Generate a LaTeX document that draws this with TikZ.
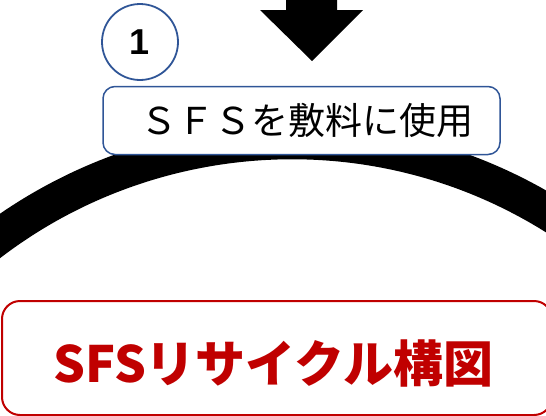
\documentclass[tikz,border=0pt]{standalone}
\usepackage{fontspec}
\setmainfont{Liberation Sans}
\newfontfamily\cjk{Noto Sans CJK JP}
\definecolor{boxblue}{HTML}{2F5597}
\definecolor{titlered}{HTML}{C00000}
\tikzset{
  labelbox/.style={draw=boxblue, line width=1.5pt, rounded corners=12pt, fill=white},
  numcircle/.style={draw=boxblue, line width=1.8pt, circle, fill=white},
  titlebox/.style={draw=titlered, line width=2pt, rounded corners=18pt, fill=white},
}
\begin{document}
\begin{tikzpicture}[x=1pt,y=-1pt]
\useasboundingbox (0,0) rectangle (546,415);
\clip (0,0) rectangle (546,415);
% big arc
\draw[line width=36pt] (291.7,638.3) ++(-144:497) arc[start angle=-144, end angle=-24, radius=497];
% down arrow
\fill (286,-5) -- (337,-5) -- (337,10) -- (363,10) -- (312,61) -- (260,10) -- (286,10) -- cycle;
% circle 1
\node[numcircle, minimum size=76pt, inner sep=0pt] (c1) at (140,42) {\fontsize{36}{36}\selectfont\bfseries 1};
% label box
\node[labelbox, minimum width=397pt, minimum height=68pt, inner sep=0pt] (b1) at (301.5,120.5) {};
\node (t1) at (307,120) {\cjk\fontsize{37}{37}\selectfont ＳＦＳを敷料に使用};
% title box
\node[titlebox, minimum width=550pt, minimum height=114pt, inner sep=0pt] (b2) at (277,358) {};
\node[text=titlered] (t2) at (273.5,363) {\cjk\bfseries\fontsize{50}{50}\selectfont SFSリサイクル構図};
\end{tikzpicture}
\end{document}
